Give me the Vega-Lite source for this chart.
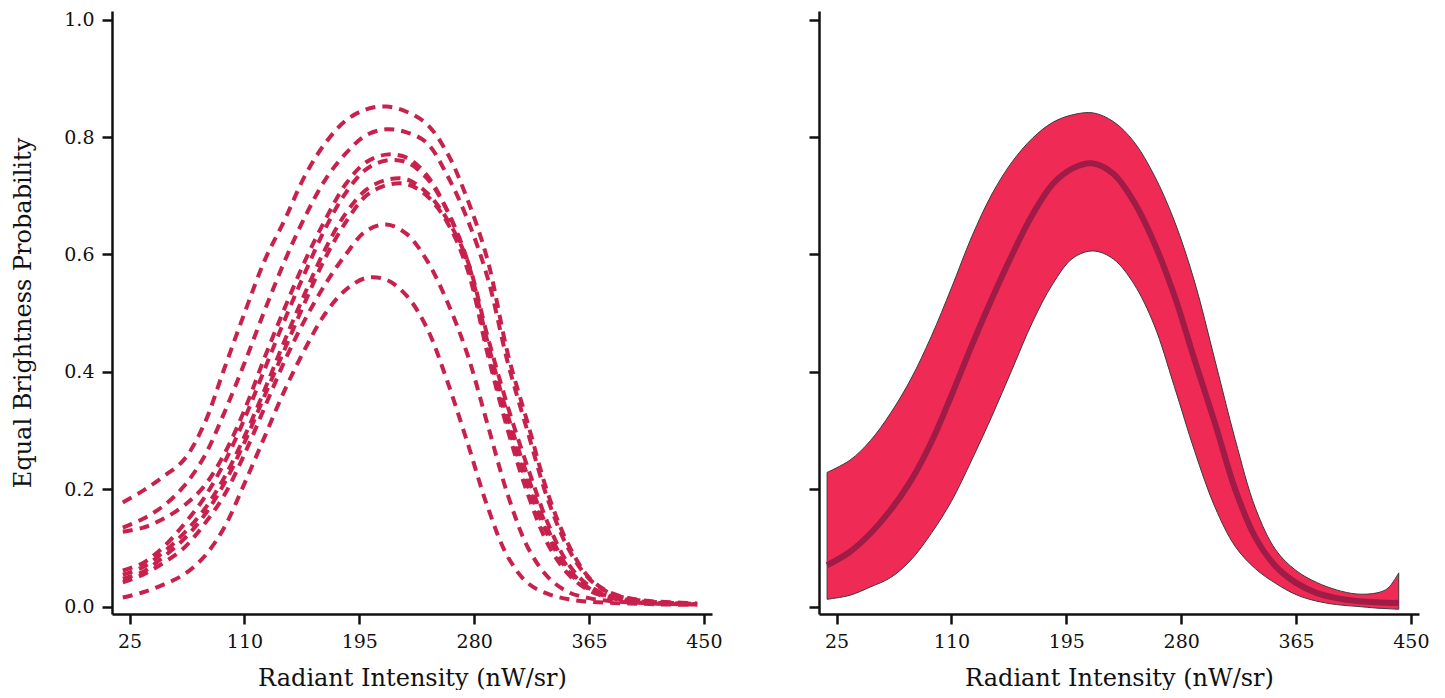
{
  "$schema": "https://vega.github.io/schema/vega-lite/v6.json",
  "background": "white",
  "padding": {"left": 11, "top": 10, "right": 5, "bottom": 0},
  "bounds": "flush",
  "spacing": 107,
  "config": {
    "view": {"stroke": null},
    "font": "DejaVu Serif",
    "axis": {
      "grid": false,
      "domainColor": "#111111",
      "domainWidth": 2.5,
      "tickColor": "#111111",
      "tickWidth": 2.5,
      "tickSize": 10,
      "labelFont": "DejaVu Serif",
      "labelFontSize": 19,
      "labelColor": "#111111",
      "titleFont": "DejaVu Serif",
      "titleFontSize": 24,
      "titleFontWeight": "normal",
      "titleColor": "#111111"
    }
  },
  "datasets": {
    "runs": [
      {"run": "A", "x": 20, "y": 0.178}, {"run": "A", "x": 35, "y": 0.198}, {"run": "A", "x": 50, "y": 0.222}, {"run": "A", "x": 65, "y": 0.25}, {"run": "A", "x": 80, "y": 0.31}, {"run": "A", "x": 95, "y": 0.405}, {"run": "A", "x": 110, "y": 0.5}, {"run": "A", "x": 125, "y": 0.59}, {"run": "A", "x": 140, "y": 0.66}, {"run": "A", "x": 155, "y": 0.735}, {"run": "A", "x": 170, "y": 0.79}, {"run": "A", "x": 185, "y": 0.828}, {"run": "A", "x": 200, "y": 0.847}, {"run": "A", "x": 215, "y": 0.852}, {"run": "A", "x": 230, "y": 0.843}, {"run": "A", "x": 245, "y": 0.822}, {"run": "A", "x": 260, "y": 0.773}, {"run": "A", "x": 275, "y": 0.694}, {"run": "A", "x": 290, "y": 0.59}, {"run": "A", "x": 305, "y": 0.43}, {"run": "A", "x": 320, "y": 0.31}, {"run": "A", "x": 335, "y": 0.19}, {"run": "A", "x": 350, "y": 0.105}, {"run": "A", "x": 365, "y": 0.05}, {"run": "A", "x": 380, "y": 0.025}, {"run": "A", "x": 395, "y": 0.015}, {"run": "A", "x": 410, "y": 0.01}, {"run": "A", "x": 425, "y": 0.008}, {"run": "A", "x": 445, "y": 0.006},
      {"run": "B", "x": 20, "y": 0.135}, {"run": "B", "x": 35, "y": 0.15}, {"run": "B", "x": 50, "y": 0.172}, {"run": "B", "x": 65, "y": 0.205}, {"run": "B", "x": 80, "y": 0.255}, {"run": "B", "x": 95, "y": 0.33}, {"run": "B", "x": 110, "y": 0.415}, {"run": "B", "x": 125, "y": 0.505}, {"run": "B", "x": 140, "y": 0.59}, {"run": "B", "x": 155, "y": 0.665}, {"run": "B", "x": 170, "y": 0.728}, {"run": "B", "x": 185, "y": 0.772}, {"run": "B", "x": 200, "y": 0.803}, {"run": "B", "x": 215, "y": 0.813}, {"run": "B", "x": 230, "y": 0.808}, {"run": "B", "x": 245, "y": 0.79}, {"run": "B", "x": 260, "y": 0.735}, {"run": "B", "x": 275, "y": 0.66}, {"run": "B", "x": 290, "y": 0.56}, {"run": "B", "x": 305, "y": 0.415}, {"run": "B", "x": 320, "y": 0.295}, {"run": "B", "x": 335, "y": 0.18}, {"run": "B", "x": 350, "y": 0.098}, {"run": "B", "x": 365, "y": 0.048}, {"run": "B", "x": 380, "y": 0.024}, {"run": "B", "x": 395, "y": 0.014}, {"run": "B", "x": 410, "y": 0.009}, {"run": "B", "x": 425, "y": 0.007}, {"run": "B", "x": 445, "y": 0.005},
      {"run": "C", "x": 20, "y": 0.128}, {"run": "C", "x": 35, "y": 0.135}, {"run": "C", "x": 50, "y": 0.15}, {"run": "C", "x": 65, "y": 0.172}, {"run": "C", "x": 80, "y": 0.205}, {"run": "C", "x": 95, "y": 0.26}, {"run": "C", "x": 110, "y": 0.335}, {"run": "C", "x": 125, "y": 0.425}, {"run": "C", "x": 140, "y": 0.51}, {"run": "C", "x": 155, "y": 0.59}, {"run": "C", "x": 170, "y": 0.66}, {"run": "C", "x": 185, "y": 0.72}, {"run": "C", "x": 200, "y": 0.757}, {"run": "C", "x": 215, "y": 0.77}, {"run": "C", "x": 230, "y": 0.765}, {"run": "C", "x": 245, "y": 0.735}, {"run": "C", "x": 260, "y": 0.675}, {"run": "C", "x": 275, "y": 0.585}, {"run": "C", "x": 290, "y": 0.44}, {"run": "C", "x": 305, "y": 0.31}, {"run": "C", "x": 320, "y": 0.205}, {"run": "C", "x": 335, "y": 0.12}, {"run": "C", "x": 350, "y": 0.06}, {"run": "C", "x": 365, "y": 0.03}, {"run": "C", "x": 380, "y": 0.017}, {"run": "C", "x": 395, "y": 0.011}, {"run": "C", "x": 410, "y": 0.008}, {"run": "C", "x": 425, "y": 0.006}, {"run": "C", "x": 445, "y": 0.005},
      {"run": "D", "x": 20, "y": 0.062}, {"run": "D", "x": 35, "y": 0.075}, {"run": "D", "x": 50, "y": 0.102}, {"run": "D", "x": 65, "y": 0.14}, {"run": "D", "x": 80, "y": 0.185}, {"run": "D", "x": 95, "y": 0.245}, {"run": "D", "x": 110, "y": 0.32}, {"run": "D", "x": 125, "y": 0.405}, {"run": "D", "x": 140, "y": 0.49}, {"run": "D", "x": 155, "y": 0.57}, {"run": "D", "x": 170, "y": 0.645}, {"run": "D", "x": 185, "y": 0.705}, {"run": "D", "x": 200, "y": 0.745}, {"run": "D", "x": 215, "y": 0.76}, {"run": "D", "x": 230, "y": 0.757}, {"run": "D", "x": 245, "y": 0.73}, {"run": "D", "x": 260, "y": 0.675}, {"run": "D", "x": 275, "y": 0.59}, {"run": "D", "x": 290, "y": 0.45}, {"run": "D", "x": 305, "y": 0.325}, {"run": "D", "x": 320, "y": 0.22}, {"run": "D", "x": 335, "y": 0.13}, {"run": "D", "x": 350, "y": 0.065}, {"run": "D", "x": 365, "y": 0.032}, {"run": "D", "x": 380, "y": 0.018}, {"run": "D", "x": 395, "y": 0.011}, {"run": "D", "x": 410, "y": 0.008}, {"run": "D", "x": 425, "y": 0.006}, {"run": "D", "x": 445, "y": 0.005},
      {"run": "E", "x": 20, "y": 0.055}, {"run": "E", "x": 35, "y": 0.068}, {"run": "E", "x": 50, "y": 0.093}, {"run": "E", "x": 65, "y": 0.125}, {"run": "E", "x": 80, "y": 0.165}, {"run": "E", "x": 95, "y": 0.22}, {"run": "E", "x": 110, "y": 0.29}, {"run": "E", "x": 125, "y": 0.37}, {"run": "E", "x": 140, "y": 0.455}, {"run": "E", "x": 155, "y": 0.535}, {"run": "E", "x": 170, "y": 0.61}, {"run": "E", "x": 185, "y": 0.67}, {"run": "E", "x": 200, "y": 0.71}, {"run": "E", "x": 215, "y": 0.727}, {"run": "E", "x": 230, "y": 0.728}, {"run": "E", "x": 245, "y": 0.705}, {"run": "E", "x": 260, "y": 0.66}, {"run": "E", "x": 275, "y": 0.59}, {"run": "E", "x": 290, "y": 0.46}, {"run": "E", "x": 305, "y": 0.34}, {"run": "E", "x": 320, "y": 0.235}, {"run": "E", "x": 335, "y": 0.14}, {"run": "E", "x": 350, "y": 0.072}, {"run": "E", "x": 365, "y": 0.036}, {"run": "E", "x": 380, "y": 0.019}, {"run": "E", "x": 395, "y": 0.012}, {"run": "E", "x": 410, "y": 0.008}, {"run": "E", "x": 425, "y": 0.006}, {"run": "E", "x": 445, "y": 0.005},
      {"run": "F", "x": 20, "y": 0.048}, {"run": "F", "x": 35, "y": 0.06}, {"run": "F", "x": 50, "y": 0.085}, {"run": "F", "x": 65, "y": 0.115}, {"run": "F", "x": 80, "y": 0.155}, {"run": "F", "x": 95, "y": 0.21}, {"run": "F", "x": 110, "y": 0.28}, {"run": "F", "x": 125, "y": 0.36}, {"run": "F", "x": 140, "y": 0.44}, {"run": "F", "x": 155, "y": 0.52}, {"run": "F", "x": 170, "y": 0.595}, {"run": "F", "x": 185, "y": 0.655}, {"run": "F", "x": 200, "y": 0.7}, {"run": "F", "x": 215, "y": 0.718}, {"run": "F", "x": 230, "y": 0.72}, {"run": "F", "x": 245, "y": 0.7}, {"run": "F", "x": 260, "y": 0.655}, {"run": "F", "x": 275, "y": 0.575}, {"run": "F", "x": 290, "y": 0.43}, {"run": "F", "x": 305, "y": 0.3}, {"run": "F", "x": 320, "y": 0.19}, {"run": "F", "x": 335, "y": 0.105}, {"run": "F", "x": 350, "y": 0.055}, {"run": "F", "x": 365, "y": 0.028}, {"run": "F", "x": 380, "y": 0.016}, {"run": "F", "x": 395, "y": 0.01}, {"run": "F", "x": 410, "y": 0.007}, {"run": "F", "x": 425, "y": 0.006}, {"run": "F", "x": 445, "y": 0.005},
      {"run": "G", "x": 20, "y": 0.042}, {"run": "G", "x": 35, "y": 0.055}, {"run": "G", "x": 50, "y": 0.075}, {"run": "G", "x": 65, "y": 0.1}, {"run": "G", "x": 80, "y": 0.14}, {"run": "G", "x": 95, "y": 0.19}, {"run": "G", "x": 110, "y": 0.26}, {"run": "G", "x": 125, "y": 0.34}, {"run": "G", "x": 140, "y": 0.42}, {"run": "G", "x": 155, "y": 0.49}, {"run": "G", "x": 170, "y": 0.55}, {"run": "G", "x": 185, "y": 0.6}, {"run": "G", "x": 200, "y": 0.64}, {"run": "G", "x": 215, "y": 0.651}, {"run": "G", "x": 230, "y": 0.635}, {"run": "G", "x": 245, "y": 0.59}, {"run": "G", "x": 260, "y": 0.52}, {"run": "G", "x": 275, "y": 0.43}, {"run": "G", "x": 290, "y": 0.31}, {"run": "G", "x": 305, "y": 0.19}, {"run": "G", "x": 320, "y": 0.1}, {"run": "G", "x": 335, "y": 0.05}, {"run": "G", "x": 350, "y": 0.025}, {"run": "G", "x": 365, "y": 0.015}, {"run": "G", "x": 380, "y": 0.01}, {"run": "G", "x": 395, "y": 0.008}, {"run": "G", "x": 410, "y": 0.006}, {"run": "G", "x": 425, "y": 0.005}, {"run": "G", "x": 445, "y": 0.004},
      {"run": "H", "x": 20, "y": 0.016}, {"run": "H", "x": 35, "y": 0.025}, {"run": "H", "x": 50, "y": 0.038}, {"run": "H", "x": 65, "y": 0.055}, {"run": "H", "x": 80, "y": 0.085}, {"run": "H", "x": 95, "y": 0.135}, {"run": "H", "x": 110, "y": 0.21}, {"run": "H", "x": 125, "y": 0.29}, {"run": "H", "x": 140, "y": 0.37}, {"run": "H", "x": 155, "y": 0.44}, {"run": "H", "x": 170, "y": 0.5}, {"run": "H", "x": 185, "y": 0.54}, {"run": "H", "x": 200, "y": 0.56}, {"run": "H", "x": 215, "y": 0.557}, {"run": "H", "x": 230, "y": 0.53}, {"run": "H", "x": 245, "y": 0.475}, {"run": "H", "x": 260, "y": 0.385}, {"run": "H", "x": 275, "y": 0.28}, {"run": "H", "x": 290, "y": 0.17}, {"run": "H", "x": 305, "y": 0.085}, {"run": "H", "x": 320, "y": 0.04}, {"run": "H", "x": 335, "y": 0.022}, {"run": "H", "x": 350, "y": 0.013}, {"run": "H", "x": 365, "y": 0.009}, {"run": "H", "x": 380, "y": 0.007}, {"run": "H", "x": 395, "y": 0.006}, {"run": "H", "x": 410, "y": 0.005}, {"run": "H", "x": 425, "y": 0.004}, {"run": "H", "x": 445, "y": 0.004}
    ],
    "band": [
      {"x": 18, "mean": 0.071, "lo": 0.013, "hi": 0.229},
      {"x": 35, "mean": 0.094, "lo": 0.02, "hi": 0.25},
      {"x": 50, "mean": 0.125, "lo": 0.034, "hi": 0.283},
      {"x": 65, "mean": 0.165, "lo": 0.05, "hi": 0.33},
      {"x": 80, "mean": 0.215, "lo": 0.08, "hi": 0.388},
      {"x": 95, "mean": 0.28, "lo": 0.125, "hi": 0.46},
      {"x": 110, "mean": 0.36, "lo": 0.18, "hi": 0.543},
      {"x": 125, "mean": 0.445, "lo": 0.25, "hi": 0.63},
      {"x": 140, "mean": 0.525, "lo": 0.325, "hi": 0.703},
      {"x": 155, "mean": 0.6, "lo": 0.405, "hi": 0.758},
      {"x": 170, "mean": 0.668, "lo": 0.485, "hi": 0.798},
      {"x": 185, "mean": 0.72, "lo": 0.55, "hi": 0.825},
      {"x": 200, "mean": 0.747, "lo": 0.594, "hi": 0.838},
      {"x": 215, "mean": 0.755, "lo": 0.606, "hi": 0.841},
      {"x": 230, "mean": 0.737, "lo": 0.592, "hi": 0.826},
      {"x": 245, "mean": 0.69, "lo": 0.55, "hi": 0.792},
      {"x": 260, "mean": 0.62, "lo": 0.48, "hi": 0.735},
      {"x": 275, "mean": 0.53, "lo": 0.375, "hi": 0.657},
      {"x": 290, "mean": 0.42, "lo": 0.265, "hi": 0.553},
      {"x": 305, "mean": 0.313, "lo": 0.17, "hi": 0.42},
      {"x": 320, "mean": 0.2, "lo": 0.103, "hi": 0.285},
      {"x": 335, "mean": 0.118, "lo": 0.065, "hi": 0.168},
      {"x": 350, "mean": 0.069, "lo": 0.04, "hi": 0.097},
      {"x": 365, "mean": 0.041, "lo": 0.021, "hi": 0.062},
      {"x": 380, "mean": 0.024, "lo": 0.01, "hi": 0.042},
      {"x": 395, "mean": 0.015, "lo": 0.004, "hi": 0.029},
      {"x": 410, "mean": 0.01, "lo": 0.001, "hi": 0.022},
      {"x": 425, "mean": 0.008, "lo": -0.002, "hi": 0.024},
      {"x": 433, "mean": 0.007, "lo": -0.003, "hi": 0.032},
      {"x": 441, "mean": 0.007, "lo": -0.004, "hi": 0.058}
    ]
  },
  "hconcat": [
    {
      "width": 600,
      "height": 603,
      "data": {"name": "runs"},
      "mark": {"type": "line", "color": "#C8214D", "strokeWidth": 4, "strokeDash": [10, 7], "interpolate": "catmull-rom"},
      "encoding": {
        "x": {"field": "x", "type": "quantitative", "scale": {"domain": [12, 456], "nice": false, "zero": false},
          "axis": {"values": [25, 110, 195, 280, 365, 450], "title": "Radiant Intensity (nW/sr)", "labelPadding": 8, "titlePadding": 15}},
        "y": {"field": "y", "type": "quantitative", "scale": {"domain": [-0.012, 1.0145], "nice": false, "zero": false},
          "axis": {"values": [0, 0.2, 0.4, 0.6, 0.8, 1.0], "format": ".1f", "title": "Equal Brightness Probability", "labelPadding": 8, "titlePadding": 28}},
        "detail": {"field": "run", "type": "nominal"}
      }
    },
    {
      "width": 600,
      "height": 603,
      "data": {"name": "band"},
      "encoding": {
        "x": {"field": "x", "type": "quantitative", "scale": {"domain": [12, 456], "nice": false, "zero": false},
          "axis": {"values": [25, 110, 195, 280, 365, 450], "title": "Radiant Intensity (nW/sr)", "labelPadding": 8, "titlePadding": 15}}
      },
      "layer": [
        {
          "mark": {"type": "area", "fill": "#EE2A55", "stroke": "#3a3a3a", "strokeWidth": 1, "interpolate": "catmull-rom"},
          "encoding": {
            "y": {"field": "lo", "type": "quantitative", "scale": {"domain": [-0.012, 1.0145], "nice": false, "zero": false},
              "axis": {"values": [0, 0.2, 0.4, 0.6, 0.8, 1.0], "labels": false, "title": null}},
            "y2": {"field": "hi"}
          }
        },
        {
          "mark": {"type": "line", "color": "#9E1C45", "strokeWidth": 6, "interpolate": "catmull-rom"},
          "encoding": {
            "y": {"field": "mean", "type": "quantitative"}
          }
        }
      ]
    }
  ]
}
